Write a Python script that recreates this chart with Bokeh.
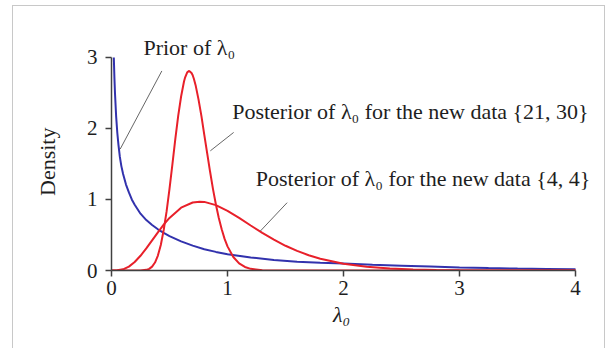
from bokeh.plotting import figure
from bokeh.models import Range1d, Label, FixedTicker
from bokeh.embed import file_html
from bokeh.resources import INLINE

# ---- data ----
prior_x = [0.02, 0.025, 0.03, 0.04, 0.05, 0.06, 0.072, 0.085, 0.1, 0.125, 0.15, 0.175, 0.2, 0.25,
           0.3, 0.35, 0.4, 0.45, 0.5, 0.6, 0.7, 0.8, 0.9, 1.0, 1.2, 1.4, 1.6, 1.8, 2.0, 2.25,
           2.5, 2.75, 3.0, 3.25, 3.5, 3.75, 4.0]
prior_y = [3.0, 2.72, 2.5, 2.17, 1.94, 1.77, 1.6, 1.47, 1.36, 1.21, 1.1, 1.0, 0.925, 0.8,
           0.71, 0.64, 0.58, 0.53, 0.485, 0.41, 0.35, 0.30, 0.262, 0.23, 0.183, 0.148, 0.123, 0.108, 0.097, 0.082,
           0.068, 0.055, 0.042, 0.034, 0.027, 0.021, 0.016]

post44_x = [0.0, 0.05, 0.1, 0.15, 0.2, 0.25, 0.3, 0.35, 0.4, 0.45, 0.5, 0.6, 0.7, 0.76, 0.8, 0.9,
            1.0, 1.1, 1.2, 1.3, 1.4, 1.5, 1.6, 1.7, 1.8, 2.0, 2.2, 2.4, 2.6, 2.8, 3.0, 3.5, 4.0]
post44_y = [0.0, 0.002, 0.017, 0.055, 0.119, 0.207, 0.311, 0.424, 0.537, 0.645, 0.74, 0.885, 0.958, 0.967, 0.966, 0.921,
            0.84, 0.74, 0.634, 0.53, 0.434, 0.348, 0.276, 0.215, 0.166, 0.096, 0.053, 0.029, 0.015, 0.008, 0.004, 0.001, 0.0]

post2130_x = [0.0, 0.25, 0.3, 0.325, 0.35, 0.375, 0.4, 0.425, 0.45, 0.475, 0.5, 0.525, 0.55, 0.575,
              0.6, 0.625, 0.635, 0.65, 0.655, 0.67, 0.69, 0.7, 0.71, 0.725, 0.75, 0.775, 0.8, 0.825,
              0.85, 0.875, 0.9, 0.925, 0.95, 0.975, 1.0, 1.05, 1.1, 1.15, 1.2, 1.3, 1.4, 1.5, 4.0]
post2130_y = [0.0, 0.0, 0.009, 0.023, 0.054, 0.112, 0.21, 0.359, 0.57, 0.832, 1.15, 1.493, 1.85, 2.177,
              2.45, 2.661, 2.72, 2.78, 2.794, 2.81, 2.78, 2.75, 2.70, 2.61, 2.41, 2.177, 1.91, 1.648,
              1.39, 1.146, 0.93, 0.739, 0.58, 0.445, 0.34, 0.19, 0.10, 0.05, 0.023, 0.005, 0.001, 0.0, 0.0]

x_ticks = [0, 1, 2, 3, 4]
y_ticks = [0, 1, 2, 3]

FONT = "Liberation Serif"
BLUE = "#3232ad"
RED = "#e8202a"
NB = "\u00a0"

p = figure(width=593, height=343, output_backend="svg", toolbar_location=None,
           x_range=Range1d(0, 4.25), y_range=Range1d(0, 3.45),
           min_border_left=98, min_border_right=2, min_border_top=19, min_border_bottom=79)
p.styles = {"margin-left": "12px", "margin-top": "5px",
            "border-top": "1px solid #c8c8c8", "border-left": "1px solid #c8c8c8",
            "border-right": "1px solid #c8c8c8"}
p.outline_line_color = None
p.grid.visible = False
p.background_fill_color = "white"
p.border_fill_color = "white"

for ax in (p.xaxis[0], p.yaxis[0]):
    ax.axis_line_color = "#404040"
    ax.axis_line_width = 1.5
    ax.major_tick_line_color = "#404040"
    ax.major_tick_line_width = 1.5
    ax.major_tick_in = 0
    ax.major_tick_out = 6
    ax.minor_tick_line_color = None
    ax.major_label_text_font = FONT
    ax.major_label_text_font_size = "21px"
    ax.major_label_text_color = "#1e1e1e"
    ax.axis_label_text_font = FONT
    ax.axis_label_text_font_size = "22px"
    ax.axis_label_text_color = "#1e1e1e"

p.xaxis.bounds = (0, 4)
p.yaxis.bounds = (0, 3)
p.xaxis.ticker = FixedTicker(ticks=x_ticks)
p.yaxis.ticker = FixedTicker(ticks=y_ticks)
# trailing no-break spaces keep the labels centred on the 0-4 / 0-3 spans
p.xaxis.axis_label = "λ₀" + NB * 6
p.yaxis.axis_label = "Density" + NB * 5
p.xaxis.axis_label_text_font_style = "italic"
p.yaxis.axis_label_text_font_style = "normal"
p.xaxis.major_label_standoff = 4
p.yaxis.major_label_standoff = 8
p.xaxis.axis_label_standoff = 4
p.yaxis.axis_label_standoff = 24

p.line(prior_x, prior_y, line_color=BLUE, line_width=2)
p.line(post44_x, post44_y, line_color=RED, line_width=2)
p.line(post2130_x, post2130_y, line_color=RED, line_width=2)

# leader lines
p.segment(x0=0.075, y0=1.71, x1=0.434, y1=2.81, line_color="#555555", line_width=0.9)
p.segment(x0=0.852, y0=1.685, x1=1.053, y1=1.944, line_color="#555555", line_width=0.9)
p.segment(x0=1.283, y0=0.555, x1=1.514, y1=0.955, line_color="#555555", line_width=0.9)

for txt, lx, ly in [("Prior of λ₀", 0.275, 3.144),
                    ("Posterior of λ₀ for the new data {21, 30}", 1.04, 2.24),
                    ("Posterior of λ₀ for the new data {4, 4}", 1.244, 1.30)]:
    p.add_layout(Label(x=lx, y=ly, text=txt, text_font=FONT, text_font_size="22px",
                       text_color="#1e1e1e", text_align="left", text_baseline="alphabetic"))

open("out.html", "w").write(file_html(p, INLINE))
